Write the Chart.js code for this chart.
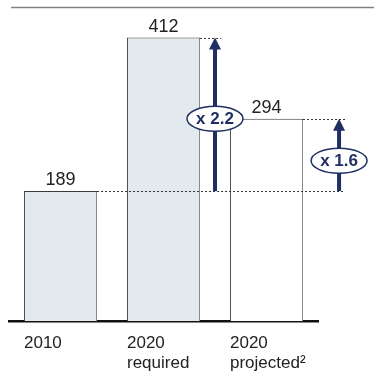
<!DOCTYPE html>
<html>
<head>
<meta charset="utf-8">
<script src="https://cdn.jsdelivr.net/npm/chart.js@4.4.1/dist/chart.umd.min.js"></script>
<style>
  html,body{margin:0;padding:0;background:#fff;overflow:hidden;}
  #wrap{width:374px;height:386px;position:relative;}
</style>
</head>
<body>
<div id="wrap"><canvas id="chart"></canvas></div>
<script>
// Werte je Kategorie
const labels = [["2010"], ["2020", "required"], ["2020", "projected²"]];
const values = [189, 412, 294];
const fills = ["#e3eaee", "#e3eaee", "#ffffff"];
const factors = ["x 2.2", "x 1.6"];

const NAVY = "#1f2f64";
const FONT = "'Liberation Sans', Arial, sans-serif";

function arrow(ctx, x, yFrom, yTo){
  ctx.save();
  ctx.strokeStyle = NAVY; ctx.fillStyle = NAVY; ctx.lineWidth = 4;
  ctx.beginPath(); ctx.moveTo(x, yFrom); ctx.lineTo(x, yTo + 10); ctx.stroke();
  ctx.beginPath();
  ctx.moveTo(x, yTo); ctx.lineTo(x - 6, yTo + 12); ctx.lineTo(x + 6, yTo + 12);
  ctx.closePath(); ctx.fill();
  ctx.restore();
}

function badge(ctx, x, y, txt){
  ctx.save();
  ctx.beginPath();
  ctx.ellipse(x, y, 28, 12.5, 0, 0, Math.PI*2);
  ctx.fillStyle = "#fff"; ctx.fill();
  ctx.strokeStyle = NAVY; ctx.lineWidth = 1.5; ctx.stroke();
  ctx.fillStyle = NAVY;
  ctx.font = "bold 17px " + FONT;
  ctx.textAlign = "center"; ctx.textBaseline = "middle";
  ctx.fillText(txt, x, y + 1);
  ctx.restore();
}

function dotted(ctx, x1, x2, y){
  ctx.save();
  ctx.strokeStyle = "#333"; ctx.lineWidth = 1; ctx.setLineDash([2, 2]);
  ctx.beginPath(); ctx.moveTo(x1, Math.round(y) + 0.5); ctx.lineTo(x2, Math.round(y) + 0.5); ctx.stroke();
  ctx.restore();
}

// Pfeile, Faktoren, Hilfslinien und Werte
const deco = {
  id: "deco",
  afterDatasetsDraw(chart){
    const ctx = chart.ctx;
    const y = chart.scales.y;
    const bars = chart.getDatasetMeta(0).data;
    const left = bars.map(b => b.x - b.width/2);
    const right = bars.map(b => b.x + b.width/2);
    const y0 = y.getPixelForValue(values[0]);
    const y1 = y.getPixelForValue(values[1]);
    const y2 = y.getPixelForValue(values[2]);

    // obere Trennlinie
    ctx.save();
    ctx.strokeStyle = "#808080"; ctx.lineWidth = 1.5;
    ctx.beginPath(); ctx.moveTo(11, 7.5); ctx.lineTo(374, 7.5); ctx.stroke();
    ctx.restore();

    // rechte Balkenkanten etwas heller
    ctx.save();
    ctx.strokeStyle = "#8a8a8a"; ctx.lineWidth = 1;
    bars.forEach(b => {
      ctx.beginPath();
      ctx.moveTo(Math.round(b.x + b.width/2) - 0.5, b.y + 1);
      ctx.lineTo(Math.round(b.x + b.width/2) - 0.5, b.base);
      ctx.stroke();
    });
    ctx.restore();

    const ax1 = (right[1] + left[2]) / 2;
    const ax2 = right[2] + 36;

    dotted(ctx, right[0], ax2 + 5, y0);
    dotted(ctx, right[1], ax1 + 6, y1);
    dotted(ctx, right[2], ax2 + 6, y2);

    arrow(ctx, ax1, y0, y1);
    arrow(ctx, ax2, y0, y2);

    badge(ctx, ax1, y2, factors[0]);
    badge(ctx, ax2, y0 + (y2 - y0) * 0.42, factors[1]);

    // Werte über den Balken
    ctx.save();
    ctx.fillStyle = "#222";
    ctx.font = "18px " + FONT;
    ctx.textAlign = "center"; ctx.textBaseline = "alphabetic";
    bars.forEach((b, i) => ctx.fillText(String(values[i]), b.x, b.y - 6));
    ctx.restore();
  }
};

new Chart(document.getElementById("chart"), {
  type: "bar",
  data: {
    labels: labels,
    datasets: [{
      data: values,
      backgroundColor: fills,
      borderColor: "#3a3a3a",
      borderWidth: 1,
      borderSkipped: "bottom",
      barPercentage: 0.71,
      categoryPercentage: 1
    }]
  },
  options: {
    responsive: true,
    maintainAspectRatio: false,
    animation: false,
    layout: {padding: {left: 9, right: 56, top: 11.4, bottom: 0}},
    plugins: {legend: {display: false}, tooltip: {enabled: false}},
    scales: {
      x: {
        grid: {display: false, drawTicks: false},
        border: {display: true, color: "#111", width: 2.5},
        ticks: {
          align: "start",
          labelOffset: -36.5,
          padding: 12,
          color: "#222",
          font: {size: 17, family: FONT, lineHeight: 1.2}
        }
      },
      y: {display: false, min: 0, max: 450}
    }
  },
  plugins: [deco]
});
</script>
</body>
</html>
